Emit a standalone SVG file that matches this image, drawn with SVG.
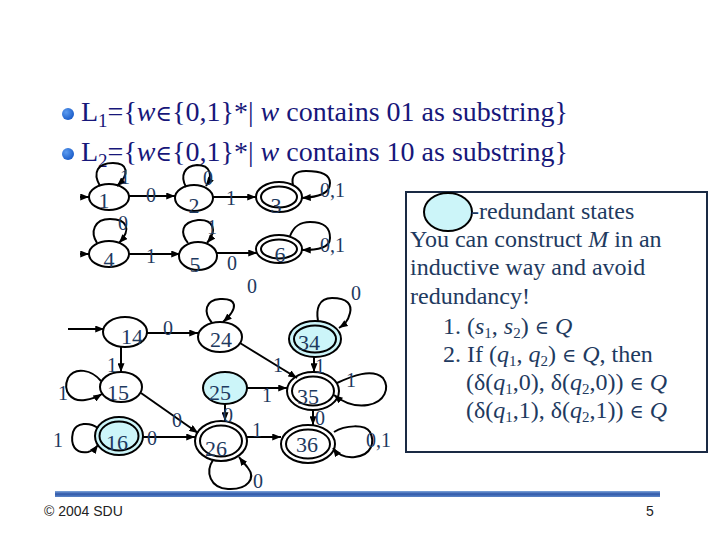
<svg xmlns="http://www.w3.org/2000/svg" width="720" height="540" viewBox="0 0 720 540">
<defs>
  <marker id="arr" viewBox="0 0 10 8" refX="10" refY="4" markerWidth="9" markerHeight="7" markerUnits="userSpaceOnUse" orient="auto">
    <path d="M0,0 L10,4 L0,8 z" fill="#000"/>
  </marker>
  <linearGradient id="bar" x1="0" y1="0" x2="0" y2="1">
    <stop offset="0" stop-color="#7fa6dc"/>
    <stop offset="0.5" stop-color="#2f57a8"/>
    <stop offset="1" stop-color="#5c86c8"/>
  </linearGradient>
  <radialGradient id="bul" cx="0.35" cy="0.35" r="0.7">
    <stop offset="0" stop-color="#5c9cf0"/>
    <stop offset="1" stop-color="#1a5cc8"/>
  </radialGradient>
  <style>
    .title{font-family:"Liberation Serif","Times New Roman",serif;font-size:28px;fill:#17177a}
    .it{font-style:italic}
    .sym{font-family:"DejaVu Serif","Liberation Serif",serif;font-size:0.8em}
    .n{fill:none;stroke:#000;stroke-width:2}
    .red{fill:#ccf5f9;stroke:#000;stroke-width:2}
    .lbl{font-family:"Liberation Serif","Times New Roman",serif;font-size:22px;fill:#1e3a60;text-anchor:middle}
    .el{font-family:"Liberation Serif","Times New Roman",serif;font-size:20px;fill:#1e3a60;text-anchor:middle}
    .els{font-family:"Liberation Serif","Times New Roman",serif;font-size:20px;fill:#1e3a60}
    .e{fill:none;stroke:#000;stroke-width:2;marker-end:url(#arr)}
    .box{font-family:"Liberation Serif","Times New Roman",serif;font-size:24px;fill:#1e3a60}
    .foot{font-family:"Liberation Sans",Arial,sans-serif;font-size:14px;fill:#222}
  </style>
</defs>
<rect width="720" height="540" fill="#fff"/>

<g id="title">
  <circle cx="68" cy="114" r="6" fill="url(#bul)"/>
  <circle cx="68" cy="154" r="6" fill="url(#bul)"/>
  <text class="title" x="81" y="121">L<tspan font-size="19" dy="6">1</tspan><tspan dy="-6">={</tspan><tspan class="it">w</tspan><tspan class="sym">∈</tspan>{0,1}*| <tspan class="it">w</tspan> contains 01 as substring}</text>
  <text class="title" x="81" y="161">L<tspan font-size="19" dy="6">2</tspan><tspan dy="-6">={</tspan><tspan class="it">w</tspan><tspan class="sym">∈</tspan>{0,1}*| <tspan class="it">w</tspan> contains 10 as substring}</text>
</g>

<!-- top automaton M1 -->
<g id="n1"><ellipse class="n" cx="109" cy="197" rx="20" ry="13"/><text class="lbl" x="104" y="208">1</text></g>
<g id="n2"><ellipse class="n" cx="194" cy="198" rx="19" ry="13"/><text class="lbl" x="194" y="213">2</text></g>
<g id="n3"><ellipse class="n" cx="279" cy="197" rx="23" ry="15"/><ellipse class="n" cx="279" cy="197" rx="18" ry="10.5"/><text class="lbl" x="276" y="213">3</text></g>
<!-- M2 -->
<g id="n4"><ellipse class="n" cx="109" cy="254" rx="20" ry="13"/><text class="lbl" x="109" y="267">4</text></g>
<g id="n5"><ellipse class="n" cx="198" cy="256" rx="19" ry="14"/><text class="lbl" x="195" y="272">5</text></g>
<g id="n6"><ellipse class="n" cx="279" cy="249" rx="23" ry="14"/><ellipse class="n" cx="279" cy="249" rx="18" ry="9.5"/><text class="lbl" x="280" y="262">6</text></g>

<!-- product automaton -->
<g id="n14"><ellipse class="n" cx="125" cy="332" rx="22" ry="15"/><text class="lbl" x="132" y="344">14</text></g>
<g id="n24"><ellipse class="n" cx="220" cy="337" rx="22" ry="15"/><text class="lbl" x="221" y="347">24</text></g>
<g id="n34"><ellipse class="red" cx="315" cy="339" rx="26" ry="18"/><ellipse class="n" cx="315" cy="339" rx="21" ry="13.5"/><text class="lbl" x="309" y="350">34</text></g>
<g id="n15"><ellipse class="n" cx="121" cy="387" rx="21" ry="15"/><text class="lbl" x="118" y="400">15</text></g>
<g id="n25"><ellipse class="red" cx="225" cy="388" rx="22" ry="16"/><text class="lbl" x="220" y="400">25</text></g>
<g id="n35"><ellipse class="n" cx="313" cy="391" rx="26" ry="19"/><ellipse class="n" cx="313" cy="391" rx="21" ry="14.5"/><text class="lbl" x="308" y="404">35</text></g>
<g id="n16"><ellipse class="red" cx="119" cy="436" rx="24" ry="19"/><ellipse class="n" cx="119" cy="436" rx="19.5" ry="14.5"/><text class="lbl" x="117" y="450">16</text></g>
<g id="n26"><ellipse class="n" cx="221" cy="441" rx="26" ry="20"/><ellipse class="n" cx="221" cy="441" rx="21" ry="15.5"/><text class="lbl" x="216" y="456">26</text></g>
<g id="n36"><ellipse class="n" cx="308" cy="444" rx="27" ry="19"/><ellipse class="n" cx="308" cy="444" rx="22" ry="14.5"/><text class="lbl" x="307" y="452">36</text></g>

<g id="connectors">
  <!-- M1 -->
  <line class="e" x1="80" y1="197" x2="89" y2="197"/>
  <path class="e" d="M100,186 C92,172 98,163 113,163 C128,163 130,174 117,186"/>
  <text class="el" x="125" y="184">1</text>
  <line class="e" x1="129" y1="196" x2="175" y2="196"/>
  <text class="el" x="151" y="202">0</text>
  <path class="e" d="M186,187 C180,176 184,166 197,165 C211,165 213,176 206,186"/>
  <text class="el" x="208" y="185">0</text>
  <line class="e" x1="213" y1="197" x2="256" y2="197"/>
  <text class="el" x="231" y="205">1</text>
  <path class="e" d="M293,185 C291,176 295,171 306,171 C320,171 330,174 330,183 C330,194 318,197 302,198"/>
  <text class="els" x="320" y="197">0,1</text>
  <!-- M2 -->
  <line class="e" x1="80" y1="254" x2="89" y2="254"/>
  <path class="e" d="M97,243 C90,232 94,219 110,219 C127,219 132,229 119,243"/>
  <text class="el" x="123" y="230">0</text>
  <line class="e" x1="129" y1="254" x2="180" y2="254"/>
  <text class="el" x="151" y="263">1</text>
  <path class="e" d="M188,243 C180,233 181,222 198,220 C213,219 218,230 207,243"/>
  <text class="el" x="212" y="234">1</text>
  <line class="e" x1="217" y1="253" x2="257" y2="253"/>
  <text class="el" x="232" y="270">0</text>
  <path class="e" d="M290,236 C294,226 300,222 310,222 C325,222 330,228 330,238 C330,248 318,250 302,250"/>
  <text class="els" x="320" y="252">0,1</text>

  <!-- product -->
  <line class="e" x1="68" y1="329" x2="104" y2="329"/>
  <line class="e" x1="147" y1="333" x2="198" y2="333"/>
  <text class="el" x="168" y="335">0</text>
  <path class="e" d="M212,323 C203,312 205,300 220,299 C236,298 240,307 223,322"/>
  <text class="el" x="252" y="293">0</text>
  <path class="e" d="M318,321 C316,310 318,298 332,298 C348,298 352,305 350,313 C348,321 345,324 339,328"/>
  <text class="el" x="356" y="300">0</text>
  <line class="e" x1="314" y1="357" x2="314" y2="372"/>
  <text class="el" x="320" y="373">1</text>
  <line class="e" x1="121" y1="347" x2="121" y2="372"/>
  <text class="el" x="112" y="372">1</text>
  <line class="e" x1="240" y1="343" x2="297" y2="378"/>
  <text class="el" x="278" y="372">1</text>
  <path class="e" d="M337,383 C352,376 372,368 383,378 C390,388 385,402 368,405 C355,407 345,404 334,395"/>
  <text class="el" x="351" y="387">1</text>
  <line class="e" x1="247" y1="388" x2="287" y2="388"/>
  <text class="el" x="267" y="402">1</text>
  <path class="e" d="M101,381 C92,370 75,366 68,378 C62,392 72,402 85,400 C92,399 97,397 102,394"/>
  <text class="el" x="63" y="400">1</text>
  <line class="e" x1="141" y1="393" x2="198" y2="433"/>
  <text class="el" x="177" y="427">0</text>
  <line class="e" x1="225" y1="404" x2="225" y2="421"/>
  <text class="el" x="228" y="422">0</text>
  <path class="e" d="M98,428 C90,422 76,422 73,432 C70,445 75,454 88,452 C92,451 95,449 98,445"/>
  <text class="el" x="58" y="447">1</text>
  <line class="e" x1="143" y1="437" x2="195" y2="437"/>
  <text class="el" x="152" y="445">0</text>
  <path class="e" d="M213,460 C205,472 210,488 228,489 C248,490 256,478 248,468 C245,464 242,461 239,457"/>
  <text class="el" x="258" y="488">0</text>
  <line class="e" x1="247" y1="437" x2="281" y2="437"/>
  <text class="el" x="257" y="437">1</text>
  <line class="e" x1="313" y1="410" x2="313" y2="425"/>
  <text class="el" x="320" y="425">0</text>
  <path class="e" d="M334,432 C345,425 365,424 370,432 C375,442 372,455 355,457 C345,458 338,455 333,448"/>
  <text class="els" x="366" y="447">0,1</text>
</g>

<g id="note">
  <rect x="406" y="192" width="301" height="260" fill="#fff" stroke="#1a2a44" stroke-width="2"/>
  <ellipse cx="448" cy="212" rx="24" ry="19" fill="#ccf5f9" stroke="#000" stroke-width="2"/>
  <text class="box" x="471" y="219">-redundant states</text>
  <text class="box" x="410" y="247">You can construct <tspan class="it">M</tspan> in an</text>
  <text class="box" x="410" y="275">inductive way and avoid</text>
  <text class="box" x="410" y="304">redundancy!</text>
  <text class="box" x="443" y="334">1. (<tspan class="it">s</tspan><tspan font-size="15" dy="4">1</tspan><tspan dy="-4">, </tspan><tspan class="it">s</tspan><tspan font-size="15" dy="4">2</tspan><tspan dy="-4">) </tspan><tspan class="sym">∈</tspan> <tspan class="it">Q</tspan></text>
  <text class="box" x="443" y="362">2. If (<tspan class="it">q</tspan><tspan font-size="15" dy="4">1</tspan><tspan dy="-4">, </tspan><tspan class="it">q</tspan><tspan font-size="15" dy="4">2</tspan><tspan dy="-4">) </tspan><tspan class="sym">∈</tspan> <tspan class="it">Q</tspan>, then</text>
  <text class="box" x="466" y="390">(δ(<tspan class="it">q</tspan><tspan font-size="15" dy="4">1</tspan><tspan dy="-4">,0), δ(</tspan><tspan class="it">q</tspan><tspan font-size="15" dy="4">2</tspan><tspan dy="-4">,0)) </tspan><tspan class="sym">∈</tspan> <tspan class="it">Q</tspan></text>
  <text class="box" x="466" y="418">(δ(<tspan class="it">q</tspan><tspan font-size="15" dy="4">1</tspan><tspan dy="-4">,1), δ(</tspan><tspan class="it">q</tspan><tspan font-size="15" dy="4">2</tspan><tspan dy="-4">,1)) </tspan><tspan class="sym">∈</tspan> <tspan class="it">Q</tspan></text>
</g>

<g id="footer">
  <rect x="55" y="491" width="605" height="6" fill="url(#bar)"/>
  <text class="foot" x="44" y="516">© 2004 SDU</text>
  <text class="foot" x="646" y="516">5</text>
</g>
</svg>
